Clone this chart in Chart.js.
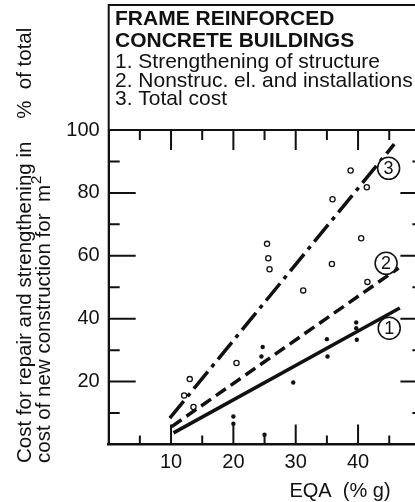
<!DOCTYPE html>
<html>
<head>
<meta charset="utf-8">
<script src="https://cdn.jsdelivr.net/npm/chart.js@4.4.0/dist/chart.umd.min.js"></script>
<style>
  html, body { margin: 0; padding: 0; background: #fff; overflow: hidden; }
  #c { display: block; }
</style>
</head>
<body>
<canvas id="c" width="430" height="502"></canvas>
<script>
// fitted lines, end points (EQA in %g, cost in %)
var structureX = [10.4, 46.7];
var structureY = [3.7, 43.4];
var nonstrucX = [10.1, 46.5];
var nonstrucY = [5.7, 56.1];
var totalX = [9.8, 45.8];
var totalY = [8.4, 95.5];

// open circles
var openX = [38.8, 41.4, 35.9, 40.5, 25.4, 25.6, 25.8, 35.8, 41.5, 31.2, 13.0, 12.1, 13.6, 20.5];
var openY = [87.1, 81.8, 78.0, 65.6, 63.8, 59.2, 55.7, 57.4, 51.7, 49.0, 20.8, 15.6, 11.9, 25.9];
// filled dots
var dotX = [24.7, 24.5, 35.0, 35.1, 39.7, 39.7, 39.8, 29.6, 20.0, 20.0, 25.0];
var dotY = [31.0, 28.0, 33.5, 28.0, 38.8, 37.0, 33.3, 19.7, 8.9, 6.6, 3.1];

var xTicks = [10, 20, 30, 40];
var yTicks = [20, 40, 60, 80, 100];

var boxTitle = ['FRAME REINFORCED', 'CONCRETE BUILDINGS'];
var boxItems = ['1. Strengthening of structure', '2. Nonstruc. el. and installations', '3. Total cost'];
var curveTags = ['1', '2', '3'];

var FONT = '"Liberation Sans", Arial, Helvetica, sans-serif';
var INK = '#111';

function pts(xs, ys) {
  return xs.map(function (x, i) { return { x: x, y: ys[i] }; });
}

// where the circled curve numbers sit (data units)
var tagAt = [[45.0, 37.0], [44.5, 57.6], [44.9, 87.8]];

var decor = {
  id: 'decor',
  afterDraw: function (chart) {
    var ctx = chart.ctx, a = chart.chartArea;
    var sx = chart.scales.x, sy = chart.scales.y;
    ctx.save();
    ctx.strokeStyle = INK;
    ctx.fillStyle = INK;
    ctx.lineWidth = 2;

    // frame round the caption and the plot
    ctx.beginPath();
    ctx.moveTo(a.left, a.bottom);
    ctx.lineTo(a.left, 5);
    ctx.lineTo(a.right, 5);
    ctx.lineTo(a.right, a.bottom);
    ctx.moveTo(a.left, a.top);
    ctx.lineTo(a.right, a.top);
    ctx.stroke();

    // inward ticks
    ctx.beginPath();
    for (var v = 5; v < 50; v += 5) {
      var big = v % 10 === 0;
      var px = sx.getPixelForValue(v);
      ctx.moveTo(px, a.top); ctx.lineTo(px, a.top + (big ? 20 : 10));
      ctx.moveTo(px, a.bottom); ctx.lineTo(px, a.bottom - (big ? 20 : 9));
    }
    for (var w = 10; w < 100; w += 10) {
      var major = w % 20 === 0;
      var py = sy.getPixelForValue(w);
      ctx.moveTo(a.left, py); ctx.lineTo(a.left + (major ? 27 : 11), py);
      ctx.moveTo(a.right, py); ctx.lineTo(a.right - (major ? 20 : 8), py);
    }
    ctx.stroke();

    // circled curve numbers
    ctx.lineWidth = 1.5;
    ctx.textAlign = 'center';
    ctx.textBaseline = 'middle';
    ctx.font = '18px ' + FONT;
    tagAt.forEach(function (t, i) {
      var cx = sx.getPixelForValue(t[0]), cy = sy.getPixelForValue(t[1]);
      ctx.beginPath();
      ctx.arc(cx, cy, 11, 0, Math.PI * 2);
      ctx.fillStyle = '#fff';
      ctx.fill();
      ctx.stroke();
      ctx.fillStyle = INK;
      ctx.fillText(curveTags[i], cx, cy + 1);
    });

    // caption in the box
    ctx.textAlign = 'left';
    ctx.textBaseline = 'alphabetic';
    ctx.font = 'bold 21px ' + FONT;
    ctx.fillText(boxTitle[0], 115, 25);
    ctx.fillText(boxTitle[1], 115, 47);
    ctx.font = '21px ' + FONT;
    ctx.fillText(boxItems[0], 115, 68);
    ctx.fillText(boxItems[1], 115, 87);
    ctx.fillText(boxItems[2], 115, 105);

    // x axis title
    ctx.font = '20px ' + FONT;
    ctx.textAlign = 'center';
    ctx.fillText('EQA  (% g)', 340, 497);

    // y axis title, two rotated lines
    ctx.save();
    ctx.translate(31, 463);
    ctx.rotate(-Math.PI / 2);
    ctx.textAlign = 'left';
    ctx.font = '20.5px ' + FONT;
    ctx.fillText('Cost for repair and strengthening in    %  of total', 0, 0);
    var l2 = 'cost of new construction for  m';
    ctx.fillText(l2, 0, 19);
    var wl2 = ctx.measureText(l2).width;
    ctx.font = '15px ' + FONT;
    ctx.fillText('2', wl2 + 1, 10);
    ctx.restore();

    ctx.restore();
  }
};

Chart.defaults.font.family = FONT;
Chart.defaults.color = INK;

new Chart(document.getElementById('c'), {
  type: 'scatter',
  data: {
    datasets: [
      {
        label: '3. Total cost',
        data: pts(totalX, totalY),
        showLine: true,
        borderColor: INK,
        borderWidth: 3.5,
        borderDash: [22, 6, 4, 6],
        pointRadius: 0
      },
      {
        label: '2. Nonstruc. el. and installations',
        data: pts(nonstrucX, nonstrucY),
        showLine: true,
        borderColor: INK,
        borderWidth: 3.5,
        borderDash: [12, 6],
        pointRadius: 0
      },
      {
        label: '1. Strengthening of structure',
        data: pts(structureX, structureY),
        showLine: true,
        borderColor: INK,
        borderWidth: 3.5,
        pointRadius: 0
      },
      {
        label: 'open',
        data: pts(openX, openY),
        pointRadius: 2.6,
        pointBorderWidth: 1.3,
        pointBorderColor: INK,
        pointBackgroundColor: '#fff'
      },
      {
        label: 'dots',
        data: pts(dotX, dotY),
        pointRadius: 2.2,
        pointBorderWidth: 0,
        pointBackgroundColor: INK
      }
    ]
  },
  options: {
    responsive: false,
    animation: false,
    layout: { padding: { top: 130, right: 9.6, left: 0, bottom: 0 } },
    plugins: { legend: { display: false }, tooltip: { enabled: false } },
    scales: {
      x: {
        type: 'linear',
        min: 0,
        max: 50,
        grid: { display: false, drawTicks: false },
        border: { display: true, color: INK, width: 2.5 },
        ticks: {
          stepSize: 10,
          autoSkip: false,
          maxRotation: 0,
          padding: 8,
          color: INK,
          font: { size: 20, lineHeight: 1 },
          callback: function (v) { return xTicks.indexOf(v) >= 0 ? String(v) : ''; }
        },
        afterFit: function (s) { s.height = 57.5; }
      },
      y: {
        min: 0,
        max: 100,
        grid: { display: false, drawTicks: false },
        border: { display: true, color: INK, width: 2 },
        ticks: {
          stepSize: 20,
          padding: 9,
          color: INK,
          font: { size: 20, lineHeight: 1 },
          callback: function (v) { return yTicks.indexOf(v) >= 0 ? String(v) : ''; }
        },
        afterFit: function (s) { s.width = 108.7; }
      }
    }
  },
  plugins: [decor]
});
</script>
</body>
</html>
